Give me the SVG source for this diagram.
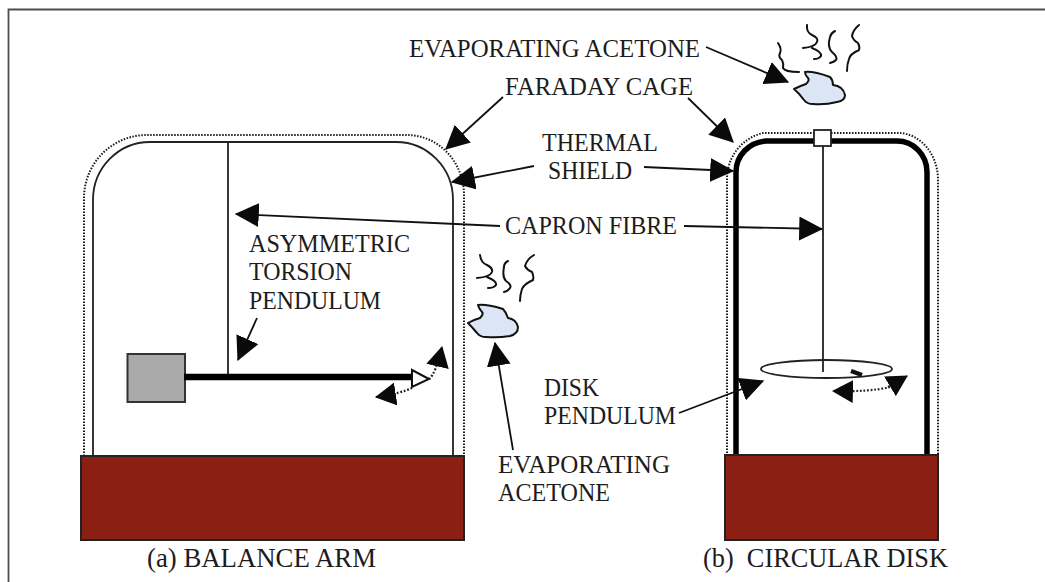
<svg xmlns="http://www.w3.org/2000/svg" width="1045" height="582" viewBox="0 0 1045 582">
<defs>
<marker id="a" viewBox="0 0 10 10" refX="9.500" refY="5" markerUnits="userSpaceOnUse" markerWidth="24" markerHeight="24" orient="auto" preserveAspectRatio="none"><path d="M0 0L10 5L0 10Z" fill="#0a0a0a"/></marker>
<marker id="b" viewBox="0 0 10 10" refX="9.500" refY="5" markerUnits="userSpaceOnUse" markerWidth="21" markerHeight="23" orient="auto" preserveAspectRatio="none"><path d="M0 0L10 5L0 10Z" fill="#0a0a0a"/></marker>
</defs>
<style>
text{font-family:"Liberation Serif","Times New Roman",serif;font-size:24.600px;fill:#1c1c1c}
.cap{font-size:26.800px}
.c{fill:none;stroke:#222;stroke-width:1.800}
.f{fill:none;stroke:#1a1a1a;stroke-width:2;stroke-dasharray:1.500 1.500}
.b{fill:#8b1f14;stroke:#222;stroke-width:2}
.s{fill:none;stroke:#111;stroke-width:2;stroke-linecap:round;stroke-linejoin:round}
.d{fill:#dbe5f3;stroke:#111;stroke-width:2;stroke-linejoin:round}
.l{fill:none;stroke:#111;stroke-width:1.800;marker-end:url(#a)}
.o{fill:none;stroke:#222;stroke-width:2.200;stroke-dasharray:1.800 1.800;marker-end:url(#b)}
</style>
<rect width="1045" height="582" fill="#fff"/>
<path d="M8.500 582V9.500H1045" fill="none" stroke="#4d4d4d" stroke-width="1.800"/>
<g id="left-apparatus">
<path class="f" d="M84 456V198A63 63 0 0 1 147 135H407A57 60 0 0 1 464 195V456"/>
<path class="c" d="M93 456V200A57 58 0 0 1 150 142H396A57 58 0 0 1 453 200V456"/>
<path class="c" d="M228 142V376"/>
<rect class="b" x="81" y="456" width="383" height="84"/>
<rect x="127.500" y="354" width="57.500" height="48" fill="#aaa" stroke="#333" stroke-width="2"/>
<path d="M184 377H412" stroke="#000" stroke-width="6.500"/>
<path d="M412 370L429 379L412 387Z" fill="#fff" stroke="#111" stroke-width="2"/>
</g>
<g id="right-apparatus">
<path class="f" d="M727 456V180A47 47 0 0 1 763 133H900A40 47 0 0 1 938 180V456"/>
<path d="M736 456V172A32 31 0 0 1 766 141H897A30 31 0 0 1 927 172V456" fill="none" stroke="#000" stroke-width="5.500"/>
<rect class="b" x="725" y="455" width="213" height="85"/>
<ellipse cx="826.500" cy="369" rx="65.500" ry="9" fill="#fff" stroke="#222" stroke-width="1.800"/>
<path class="c" d="M823 146V372"/>
<rect x="814" y="130" width="17" height="16" fill="#fff" stroke="#222" stroke-width="1.800"/>
<path d="M851 371L862 375" stroke="#111" stroke-width="4.500"/>
</g>
<g id="acetone-top">
<path class="d" d="M805 72Q813 71 830 77Q833 80 833 85Q843 86 845 95Q845 101 837 102Q825 105 813 104Q807 104 804 100Q799 93 794 89Q800 86 806 84Q810 80 808 78Q805 75 805 72Z"/>
<path class="s" d="M778 43Q782 49 780 53Q778 57 782 60Q784 64 783 68Q785 72 799 72M807 25Q806 32 812 35Q819 38 817 42Q815 47 803 48M812 48Q822 52 821 56Q819 59 814 59M835 31Q831 33 830 37Q827 47 832 52Q838 57 836 60Q834 62 830 63M859 25Q853 30 852 36Q853 40 858 43Q860 47 859 50Q850 54 849 59Q847 64 847 71"/>
</g>
<g id="acetone-left">
<path class="d" d="M478 305Q486 304 503 309Q506 312 508 318Q516 319 518 327Q518 334 510 336Q498 338 486 337Q480 337 477 333Q472 327 468 323Q473 320 480 318Q484 314 482 312Q479 309 478 305Z"/>
<path class="s" d="M480 255Q481 263 487 265Q493 268 492 272Q490 277 477 278M487 277Q497 281 496 285Q494 288 488 288M508 261Q504 263 504 267Q502 277 506 281Q512 285 510 288Q508 291 504 292M534 255Q527 259 525 266Q527 270 532 272Q534 276 533 280Q524 284 522 289Q520 295 520 301"/>
</g>
<g id="connectors">
<path class="l" d="M503 97L446 149"/>
<path class="l" d="M688 98L733 142"/>
<path class="l" d="M534 166L452 182"/>
<path class="l" d="M644 167L733 171"/>
<path class="l" d="M500 226L236 214"/>
<path class="l" d="M684 226L822 229"/>
<path class="l" d="M257 318L238 360"/>
<path class="l" d="M706 47L788 82"/>
<path class="l" d="M513 450L495 343"/>
<path class="l" d="M679 413L763 381"/>
<path class="o" d="M429 379Q436 373 442 347"/>
<path class="o" d="M412 388Q402 393 376 397"/>
<path class="o" d="M890 387Q870 392 833 391"/>
<path class="o" d="M888 387Q897 382 907 376"/>
</g>
<g id="labels">
<text x="409" y="57" textLength="291" lengthAdjust="spacingAndGlyphs">EVAPORATING ACETONE</text>
<text x="505" y="95" textLength="188" lengthAdjust="spacingAndGlyphs">FARADAY CAGE</text>
<text x="542" y="151" textLength="116" lengthAdjust="spacingAndGlyphs">THERMAL</text>
<text x="548" y="179" textLength="84" lengthAdjust="spacingAndGlyphs">SHIELD</text>
<text x="505" y="234" textLength="172" lengthAdjust="spacingAndGlyphs">CAPRON FIBRE</text>
<text x="249" y="252" textLength="161" lengthAdjust="spacingAndGlyphs">ASYMMETRIC</text>
<text x="249" y="280" textLength="103" lengthAdjust="spacingAndGlyphs">TORSION</text>
<text x="249" y="309" textLength="132" lengthAdjust="spacingAndGlyphs">PENDULUM</text>
<text x="544" y="396" textLength="55" lengthAdjust="spacingAndGlyphs">DISK</text>
<text x="544" y="424" textLength="132" lengthAdjust="spacingAndGlyphs">PENDULUM</text>
<text x="498" y="473" textLength="172" lengthAdjust="spacingAndGlyphs">EVAPORATING</text>
<text x="498" y="501" textLength="112" lengthAdjust="spacingAndGlyphs">ACETONE</text>
<text class="cap" x="147" y="567" textLength="229" lengthAdjust="spacingAndGlyphs">(a) BALANCE ARM</text>
<text class="cap" x="703" y="567" textLength="245" lengthAdjust="spacingAndGlyphs" xml:space="preserve">(b)  CIRCULAR DISK</text>
</g>
</svg>
